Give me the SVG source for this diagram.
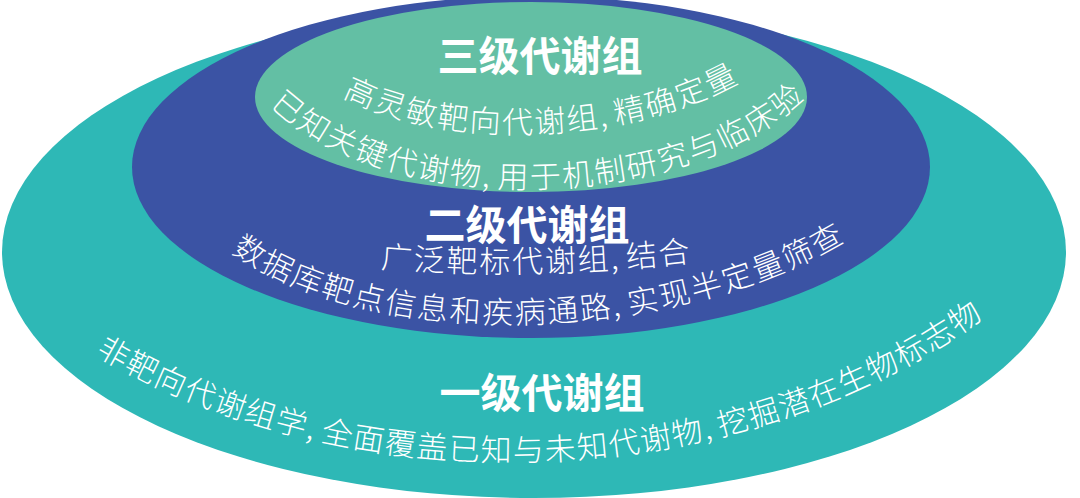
<svg xmlns="http://www.w3.org/2000/svg" width="1080" height="498" viewBox="0 0 1080 498">
<style>
.title{font-family:"Noto Sans CJK SC","Noto Sans",sans-serif;font-weight:700;font-size:41px;fill:#fff;text-anchor:middle}
.sub{font-family:"Noto Sans CJK SC","Noto Sans",sans-serif;font-weight:300;font-size:31px;letter-spacing:2px;fill:#fff}
.sub1{letter-spacing:1.4px}
</style>
<defs>
<path id="p1" d="M100,357 C361,508 735,495 980,320"/>
<path id="p2a" d="M228,250 C384,360 688,339 850,238"/>
<path id="p2b" d="M383,268 Q537,280 690,262"/>
<path id="p3a" d="M340,95 C450,154 635,142 743,80"/>
<path id="p3b" d="M268,103 C387,222 689,214 808,95"/>
</defs>
<rect width="1080" height="498" fill="#fff"/>
<g id="level1">
<ellipse cx="534" cy="252" rx="532" ry="246" fill="#2EB8B6"/>
</g>
<g id="level2">
<ellipse cx="531" cy="167" rx="399" ry="171" fill="#3B53A4"/>
</g>
<g id="level3">
<ellipse cx="531" cy="97" rx="276" ry="95" fill="#63BFA4"/>
</g>
<g id="level3-text">
<text class="title" x="540" y="71">三级代谢组</text>
<text class="sub"><textPath href="#p3a" startOffset="50%" text-anchor="middle">高灵敏靶向代谢组,<tspan dx="6">精确定量</tspan></textPath></text>
<text class="sub"><textPath href="#p3b" startOffset="50%" text-anchor="middle">已知关键代谢物,<tspan dx="6">用于机制研究与临床验</tspan></textPath></text>
</g>
<g id="level2-text">
<text class="title" x="527" y="240">二级代谢组</text>
<text class="sub"><textPath href="#p2b" startOffset="50%" text-anchor="middle">广泛靶标代谢组,<tspan dx="6">结合</tspan></textPath></text>
<text class="sub"><textPath href="#p2a" startOffset="50%" text-anchor="middle">数据库靶点信息和疾病通路,<tspan dx="6">实现半定量筛查</tspan></textPath></text>
</g>
<g id="level1-text">
<text class="title" x="542" y="408">一级代谢组</text>
<text class="sub sub1"><textPath href="#p1" startOffset="50%" text-anchor="middle">非靶向代谢组学,<tspan dx="6">全面覆盖已知与未知代谢物,</tspan><tspan dx="6">挖掘潜在生物标志物</tspan></textPath></text>
</g>
<g id="connectors"/>
</svg>
